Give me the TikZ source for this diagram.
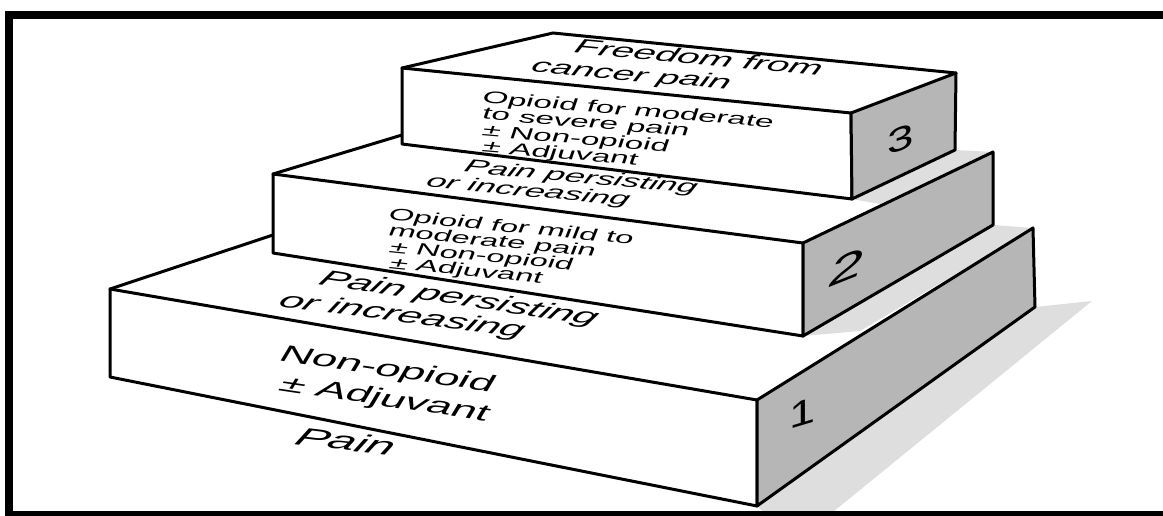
\documentclass[tikz,border=0pt]{standalone}
\usepackage{fontspec}
\setmainfont{Liberation Sans}
\newcommand{\fsz}[1]{\fontsize{#1}{#1}\selectfont}
\definecolor{sidegray}{RGB}{182,182,182}
\definecolor{shadegray}{RGB}{222,222,222}
\begin{document}
\begin{tikzpicture}[x=1pt,y=-1pt,
  face/.style={fill=white, draw=black, line width=3pt, line join=round},
  sideface/.style={fill=sidegray, draw=black, line width=3pt, line join=round},
  edge/.style={draw=black, line width=3pt, line cap=round},
  shade/.style={fill=shadegray},
  lbl/.style={anchor=base west, inner sep=0pt, outer sep=0pt, text=black},
  rt/.style={xscale=2, rotate=-#1},
  num/.style={anchor=center, inner sep=0pt, text=black}]
\useasboundingbox (0,0) rectangle (1163,516);
\clip (0,0) rectangle (1163,516);
\fill[white] (0,0) rectangle (1163,516);

% corner coordinates
\coordinate (A1) at (110,289); \coordinate (B1) at (110,377);
\coordinate (C1) at (757,400); \coordinate (D1) at (757,506);
\coordinate (E1) at (1033,228); \coordinate (F1) at (1035,307);
\coordinate (G1) at (273,235);
\coordinate (A2) at (273,174); \coordinate (B2) at (273,253);
\coordinate (C2) at (803,243); \coordinate (D2) at (803,336);
\coordinate (E2) at (993,152); \coordinate (F2) at (993,225);
\coordinate (G2) at (402,135);
\coordinate (A3) at (402,68); \coordinate (B3) at (402,144);
\coordinate (C3) at (851,113); \coordinate (D3) at (852,199);
\coordinate (E3) at (956,73); \coordinate (F3) at (955,150);
\coordinate (H3) at (553,33);

% shadows
\fill[shade] (F1) -- (1092,301) -- (828,516) -- (768,516) -- (D1) -- cycle;
\fill[shade] (F2) -- (E1) -- (860,331) -- (D2) -- cycle;

% box 1
\draw[edge] (A1) -- (G1);
\filldraw[face] (A1) -- (C1) -- (D1) -- (B1) -- cycle;
\filldraw[sideface] (C1) -- (E1) -- (F1) -- (D1) -- cycle;

% box 2
\fill[shade] (F3) -- (E2) -- (880,204) -- (D3) -- cycle;
\draw[edge] (A2) -- (G2);
\filldraw[face] (A2) -- (C2) -- (D2) -- (B2) -- cycle;
\filldraw[sideface] (C2) -- (E2) -- (F2) -- (D2) -- cycle;

% box 3
\draw[edge] (A3) -- (H3) -- (E3);
\filldraw[face] (A3) -- (C3) -- (D3) -- (B3) -- cycle;
\filldraw[sideface] (C3) -- (E3) -- (F3) -- (D3) -- cycle;

% box 3 texts
\node[lbl, rt=10.5, font={\fsz{20}\itshape}] (f1) at (573,53) {Freedom from};
\node[lbl, rt=10, font={\fsz{19.5}\itshape}] (f2) at (530,72) {cancer pain};
\node[lbl, rt=9.6, font={\fsz{16.7}}] (o31) at (481,103) {Opioid for moderate};
\node[lbl, rt=9.6, font={\fsz{16.7}}] (o32) at (481,119) {to severe pain};
\node[lbl, rt=9.6, font={\fsz{16.7}}] (o33) at (481,136) {± Non-opioid};
\node[lbl, rt=9.6, font={\fsz{16.7}}] (o34) at (481,152) {± Adjuvant};

% box 2 texts
\node[lbl, rt=10.5, font={\fsz{18}\itshape}] (p21) at (463,172) {Pain persisting};
\node[lbl, rt=10.5, font={\fsz{18}\itshape}] (p22) at (425,187) {or increasing};
\node[lbl, rt=11.3, font={\fsz{16.5}}] (o21) at (387,220) {Opioid for mild to};
\node[lbl, rt=11.3, font={\fsz{16.5}}] (o22) at (387,236) {moderate pain};
\node[lbl, rt=11.3, font={\fsz{16.5}}] (o23) at (388,252) {± Non-opioid};
\node[lbl, rt=11.3, font={\fsz{16.5}}] (o24) at (388,268) {± Adjuvant};

% box 1 texts
\node[lbl, rt=16.7, font={\fsz{22}\itshape}] (p11) at (317,284) {Pain persisting};
\node[lbl, rt=14.6, font={\fsz{22}\itshape}] (p12) at (277,306) {or increasing};
\node[lbl, rt=16.7, font={\fsz{23}}] (o11) at (277,360) {Non-opioid};
\node[lbl, rt=16.7, font={\fsz{23}}] (o12) at (277,390) {± Adjuvant};
\node[lbl, rt=13.5, font={\fsz{25}\itshape}] (pain) at (293,444) {Pain};

% step numbers
\node[num, yslant=0.35, xscale=1.4, font={\fsz{34}}] (n3) at (901,139) {3};
\node[num, yslant=0.4, xscale=1.6, font={\fsz{38}\itshape}] (n2) at (846,267) {2};
\node[num, yslant=0.3, xscale=1.3, font={\fsz{36}}] (n1) at (803,413) {1};

% frame
\draw[line width=8pt] (1175,15) -- (9,15) -- (9,515) -- (1175,515);
\end{tikzpicture}
\end{document}
